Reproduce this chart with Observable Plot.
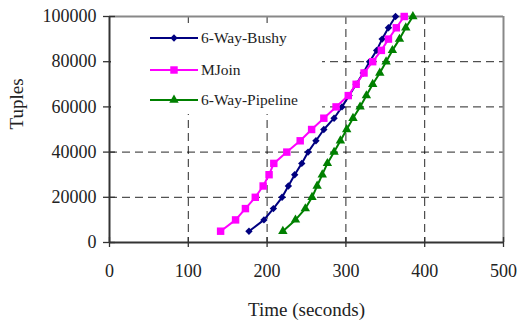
<!DOCTYPE html>
<html><head><meta charset="utf-8">
<script src="https://cdn.jsdelivr.net/npm/d3@7"></script>
<script src="https://cdn.jsdelivr.net/npm/@observablehq/plot@0.6"></script>
<style>body{margin:0;background:#fff} #chart{width:519px;height:322px}</style>
</head><body><div id="chart"></div>
<script>
const tuples = [5000,10000,15000,20000,25000,30000,35000,40000,45000,50000,55000,60000,65000,70000,75000,80000,85000,90000,95000,100000];
const bushyTime = [177,196,208,219,227,235,244,252,262,272,285,295,304,313,322,330,339,346,354,363];
const mjoinTime = [141,160,172.5,185,195,202.5,208.5,225,242,256.5,272,287.5,303,313,323,334,345,354,364,374];
const pipelineTime = [220,236,248.5,257,263.5,270,276.5,285,293,301,309,318,326,334,343,351,359,368,376,385];
const seriesNames = ["6-Way-Bushy","MJoin","6-Way-Pipeline"];
const seriesColors = ["#000080","#FF00FF","#008000"];
const xTicks = [0,100,200,300,400,500];
const yTicks = [0,20000,40000,60000,80000,100000];
const xGrid = [100,200,300,400];
const yGrid = [20000,40000,60000,80000];
const xTitle = "Time (seconds)";
const yTitle = "Tuples";

const FONT = "Liberation Serif, Times New Roman, serif";
const diamond = {draw(ctx, size){const d = Math.sqrt(size/Math.PI)*1.15; ctx.moveTo(0,-d); ctx.lineTo(d,0); ctx.lineTo(0,d); ctx.lineTo(-d,0); ctx.closePath();}};
const symbols = [diamond, "square", "triangle"];
const radii = [3.2, 4.2, 3.5];
const times = [bushyTime, mjoinTime, pipelineTime];

const data = [];
seriesNames.forEach((s, i) => times[i].forEach((t, j) => data.push({series: s, time: t, tuples: tuples[j]})));

const marks = [
  Plot.gridX(xGrid, {stroke: "#000", strokeOpacity: 0.85, strokeDasharray: "8,5", strokeWidth: 1}),
  Plot.gridY(yGrid, {stroke: "#000", strokeOpacity: 0.85, strokeDasharray: "8,5", strokeWidth: 1}),
  Plot.ruleX([500], {stroke: "#888", strokeWidth: 2}),
  Plot.ruleY([100000], {stroke: "#888", strokeWidth: 2}),
  Plot.ruleX([0], {stroke: "#333", strokeWidth: 2}),
  Plot.ruleY([0], {stroke: "#333", strokeWidth: 2}),
  Plot.axisY({ticks: yTicks, tickSize: 12, dx: 6, text: null, label: null, stroke: "#333", strokeWidth: 1.3}),
  Plot.axisX({ticks: xTicks, tickSize: 10, dy: -5, text: null, label: null, stroke: "#333", strokeWidth: 1.3}),
  Plot.text(yTicks, {x: 0, y: d => d, text: d => String(d), textAnchor: "end", dx: -13, fontSize: 18, fontFamily: FONT, fill: "#222"}),
  Plot.text(xTicks, {x: d => d, y: 0, text: d => String(d), dy: 29, fontSize: 18, fontFamily: FONT, fill: "#222"}),
  Plot.text([yTitle], {frameAnchor: "left", dx: -93, rotate: -90, fontSize: 19, fontFamily: FONT, fill: "#222"}),
  Plot.text([xTitle], {frameAnchor: "bottom", dy: 67, lineAnchor: "middle", fontSize: 19, fontFamily: FONT, fill: "#222"})
];
seriesNames.forEach((s, i) => {
  const d = data.filter(r => r.series === s);
  marks.push(Plot.line(d, {x: "time", y: "tuples", stroke: seriesColors[i], strokeWidth: 2}));
  marks.push(Plot.dot(d, {x: "time", y: "tuples", symbol: symbols[i], r: radii[i], fill: seriesColors[i], stroke: "none"}));
});

const chart = Plot.plot({
  width: 519, height: 322,
  marginLeft: 109, marginRight: 16, marginTop: 16, marginBottom: 80,
  x: {domain: [0, 500], axis: null},
  y: {domain: [0, 100000], axis: null},
  style: {fontFamily: FONT, background: "#fff", color: "#222"},
  marks
});
document.getElementById("chart").appendChild(chart);

// legend (white box hiding gridlines, like the original)
const svg = d3.select(chart);
const lg = svg.append("g");
lg.append("rect").attr("x", 111).attr("y", 23).attr("width", 211).attr("height", 91).attr("fill", "#fff");
const rowsY = [38, 70, 100];
const d3syms = [null, d3.symbolSquare, d3.symbolTriangle];
seriesNames.forEach((s, i) => {
  const y = rowsY[i];
  lg.append("line").attr("x1", 150).attr("x2", 198).attr("y1", y).attr("y2", y).attr("stroke", seriesColors[i]).attr("stroke-width", 2);
  const size = Math.PI * radii[i] * radii[i];
  const path = d3.symbol().type(i === 0 ? diamond : d3syms[i]).size(size)();
  lg.append("path").attr("d", path).attr("transform", `translate(174,${y})`).attr("fill", seriesColors[i]);
  lg.append("text").attr("x", 201).attr("y", y).attr("dy", "0.35em").attr("text-anchor", "start").attr("font-size", 15.5).attr("font-family", FONT).attr("fill", "#222").text(s);
});
</script>
</body></html>
